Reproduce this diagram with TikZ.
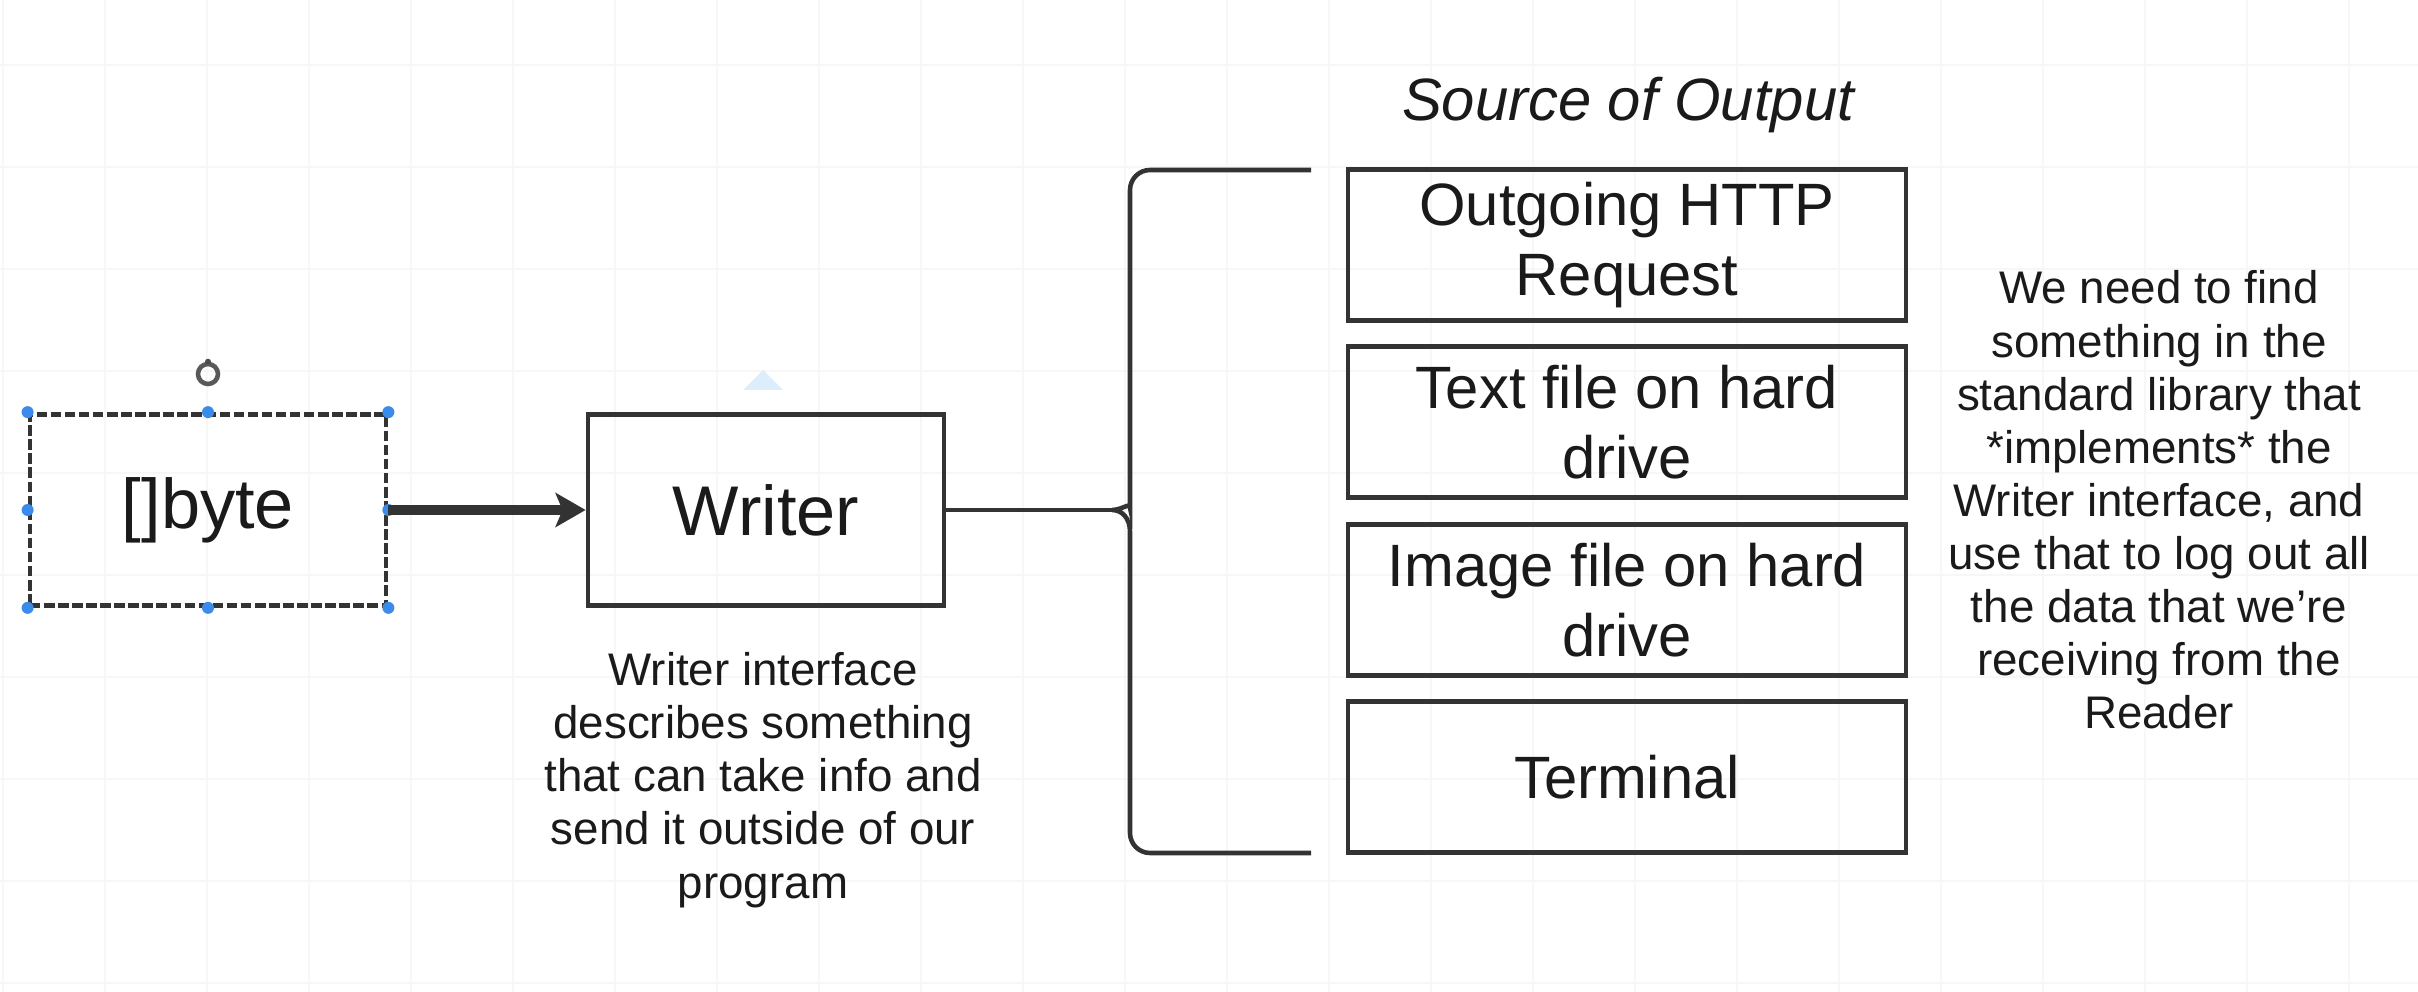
\documentclass[tikz,border=0pt]{standalone}
\usepackage{fontspec}
\setmainfont{Liberation Sans}
\usetikzlibrary{arrows.meta}
\definecolor{edge}{HTML}{333333}
\definecolor{ink}{HTML}{1A1A1A}
\definecolor{handle}{HTML}{3B8BEB}
\definecolor{hover}{HTML}{DCEEFB}
\begin{document}
\begin{tikzpicture}[x=0.01cm,y=-0.01cm,
  box/.style={draw=edge, line width=1.3pt, minimum width=3.56cm, minimum height=1.91cm, text=ink, font=\fontsize{20}{24}\selectfont},
  outbox/.style={draw=edge, line width=1.3pt, minimum width=5.58cm, minimum height=1.51cm, align=center, text=ink, font=\fontsize{17}{20}\selectfont},
  note/.style={align=center, text=ink, font=\fontsize{13}{15.1}\selectfont},
  dot/.style={circle, fill=handle, inner sep=0pt, minimum size=0.12cm},
  gridline/.style={black!3, line width=0.5pt}]
\useasboundingbox (0,0) rectangle (2418,992);
\foreach \x in {3,105,...,2418} \draw[gridline] (\x,0) -- (\x,992);
\foreach \y in {65,167,...,992} \draw[gridline] (0,\y) -- (2418,\y);
\node[box, dash pattern=on 3pt off 1pt] (byte) at (208,510) {[]byte};
\foreach \a/\n in {north west/1, north/2, north east/3, west/4, east/5, south west/6, south/7, south east/8}
  \node[dot] (h\n) at (byte.\a) {};
\node[circle, draw=black!65, line width=1.3pt, inner sep=0pt, minimum size=0.2cm] (rot) at (208,374) {};
\fill[black!70] (rot.north) circle (0.03cm);
\fill[hover] (743,390) -- (783,390) -- (763,370) -- cycle;
\node[box] (writer) at (766,510) {Writer};
\draw[edge, line width=3pt, -{Stealth[length=0.3cm, width=0.34cm, inset=0.07cm]}] (byte) -- (writer);
\node[font=\itshape\fontsize{17}{20}\selectfont, text=ink] (title) at (1628,105) {Source of Output};
\node[outbox] (out1) at (1627,245) {Outgoing HTTP\\Request};
\node[outbox] (out2) at (1627,422) {Text file on hard\\drive};
\node[outbox] (out3) at (1627,600) {Image file on hard\\drive};
\node[outbox] (out4) at (1627,777) {Terminal};
\coordinate (tip) at (1112,510);
\draw[edge, line width=1.3pt] (1311,170) [rounded corners=0.2cm] -- (1130,170) -- (1130,488) [sharp corners]
  .. controls (1130,502) and (1122,510) .. (tip) .. controls (1122,510) and (1130,518) .. (1130,532)
  [rounded corners=0.2cm] -- (1130,853) -- (1311,853);
\draw[edge, line width=1.3pt] (writer) -- (tip);
\node[note] (wnote) at (763,780) {Writer interface\\describes something\\that can take info and\\send it outside of our\\program};
\node[note] (rnote) at (2159,500) {We need to find\\something in the\\standard library that\\*implements* the\\Writer interface, and\\use that to log out all\\the data that we're\\receiving from the\\Reader};
\end{tikzpicture}
\end{document}
